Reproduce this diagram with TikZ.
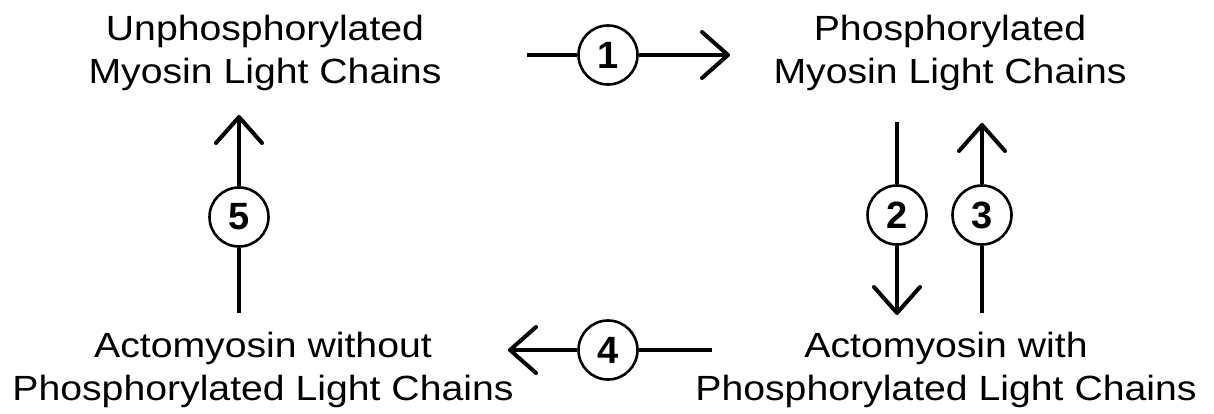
\documentclass[tikz,border=0pt]{standalone}
\usepackage{fontspec}
\setmainfont{Liberation Sans}
\newfontfamily\lblfont[FakeStretch=1.12]{Liberation Sans}
\usetikzlibrary{arrows.meta}
\tikzset{
  lbl/.style={inner sep=0pt, anchor=north, align=center, font=\lblfont\fontsize{35}{43}\selectfont},
  numc/.style={circle, draw, line width=2.6pt, fill=white, minimum size=59pt, inner sep=0pt, font=\bfseries\fontsize{38}{38}\selectfont},
  conn/.style={line width=4pt},
  arr/.style={line width=4pt, -{Straight Barb[length=26pt,width=46pt,round]}}
}
\begin{document}
\begin{tikzpicture}[x=1pt,y=-1pt]
\useasboundingbox (0,0) rectangle (1214,414);
% labels
\node[lbl] (unp) at (265,14.5) {Unphosphorylated\\Myosin Light Chains};
\node[lbl] (pho) at (950,14.5) {Phosphorylated\\Myosin Light Chains};
\node[lbl] (amwo) at (263,331.5) {Actomyosin without\\Phosphorylated Light Chains};
\node[lbl] (amw) at (946,331.5) {Actomyosin with\\Phosphorylated Light Chains};
% circles
\node[numc] (c1) at (608,55) {1};
\node[numc] (c2) at (897,215) {2};
\node[numc] (c3) at (982,215) {3};
\node[numc] (c4) at (608,350) {4};
\node[numc] (c5) at (239,217) {5};
% end points
\coordinate (a1s) at (527,55);
\coordinate (a1e) at (730,55);
\coordinate (a2s) at (897,122);
\coordinate (a2e) at (897,315);
\coordinate (a3s) at (982,313);
\coordinate (a3e) at (982,123);
\coordinate (a4s) at (712,350);
\coordinate (a4e) at (508,350);
\coordinate (a5s) at (239,313);
\coordinate (a5e) at (239,115);
% connectors
\draw[conn] (a1s) -- (c1.west);
\draw[arr] (c1.east) -- (a1e);
\draw[conn] (a2s) -- (c2.north);
\draw[arr] (c2.south) -- (a2e);
\draw[conn] (a3s) -- (c3.south);
\draw[arr] (c3.north) -- (a3e);
\draw[conn] (a4s) -- (c4.east);
\draw[arr] (c4.west) -- (a4e);
\draw[conn] (a5s) -- (c5.south);
\draw[arr] (c5.north) -- (a5e);
\end{tikzpicture}
\end{document}
